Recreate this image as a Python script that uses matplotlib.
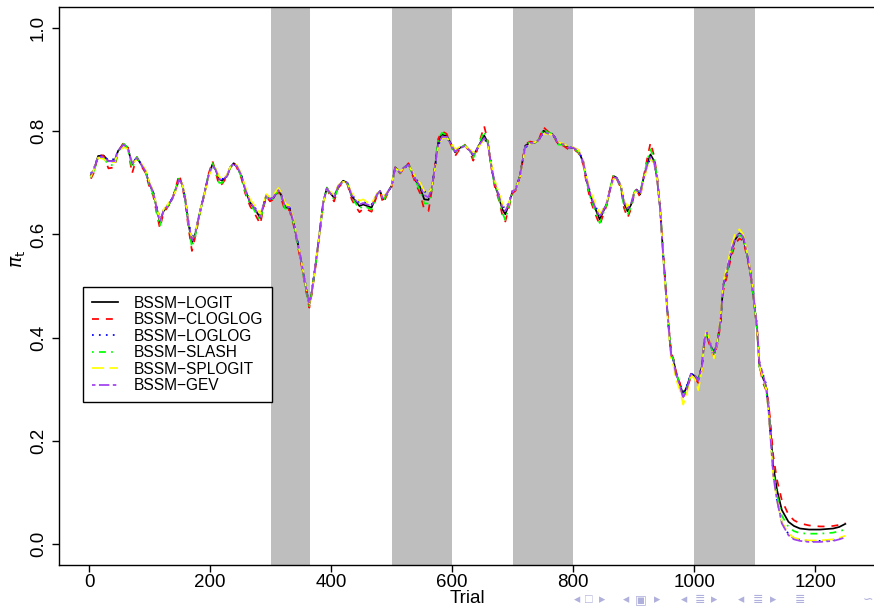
import matplotlib
matplotlib.use("Agg")
from matplotlib import pyplot as plt

# Trial index where the estimates were read off
trials = [
	3, 8, 15, 24, 32, 42, 48, 57, 64, 71,
	79, 86, 93, 99, 106, 112, 117, 123, 128, 137,
	143, 149, 154, 159, 164, 170, 176, 183, 191, 197,
	204, 209, 215, 220, 228, 233, 239, 244, 252, 258,
	266, 274, 283, 288, 293, 299, 305, 313, 318, 324,
	331, 338, 346, 353, 360, 364, 368, 374, 381, 387,
	393, 398, 405, 412, 420, 427, 434, 440, 447, 453,
	460, 467, 476, 481, 486, 493, 500, 506, 514, 520,
	528, 533, 540, 547, 554, 561, 566, 572, 577, 583,
	591, 600, 605, 613, 621, 630, 635, 641, 648, 653,
	659, 664, 670, 677, 683, 688, 693, 700, 705, 712,
	721, 729, 737, 744, 751, 758, 766, 770, 776, 784,
	792, 800, 809, 817, 822, 829, 836, 844, 849, 856,
	861, 867, 872, 879, 884, 890, 896, 901, 905, 911,
	916, 923, 928, 934, 939, 944, 949, 954, 958, 962,
	966, 970, 976, 982, 988, 995, 1002, 1007, 1013, 1017,
	1021, 1026, 1033, 1039, 1044, 1048, 1055, 1061, 1068, 1075,
	1081, 1087, 1093, 1098, 1104, 1108, 1113, 1119, 1123, 1127,
	1131, 1137, 1145, 1156, 1165, 1175, 1190, 1208, 1220, 1230,
	1240, 1250,
]

pi_logit = [
	.715, .725, .752, .753, .742, .742, .762, .775, .768, .736,
	.749, .736, .723, .700, .681, .649, .623, .645, .652, .668,
	.687, .707, .697, .668, .623, .584, .603, .642, .681, .713,
	.736, .726, .707, .704, .713, .729, .738, .733, .713, .687,
	.662, .649, .632, .655, .676, .667, .671, .687, .675, .652,
	.652, .623, .577, .532, .487, .464, .487, .538, .603, .662,
	.690, .681, .671, .694, .704, .700, .674, .665, .655, .658,
	.655, .652, .678, .684, .668, .681, .694, .730, .720, .729,
	.736, .723, .704, .691, .668, .667, .687, .733, .778, .794,
	.791, .772, .759, .768, .772, .762, .752, .765, .781, .792,
	.778, .739, .700, .674, .649, .639, .655, .684, .687, .713,
	.772, .778, .778, .784, .801, .797, .794, .788, .775, .775,
	.768, .768, .762, .739, .707, .674, .652, .629, .642, .661,
	.687, .713, .710, .694, .661, .645, .658, .681, .687, .678,
	.707, .739, .755, .742, .707, .649, .560, .480, .420, .368,
	.357, .331, .312, .289, .305, .330, .325, .318, .344, .396,
	.409, .390, .367, .396, .435, .500, .532, .564, .590, .602,
	.594, .564, .526, .480, .416, .344, .325, .305, .267, .208,
	.150, .105, .066, .043, .035, .030, .028, .028, .029, .030,
	.033, .039,
]

pi_cloglog = [
	.708, .720, .755, .752, .728, .730, .760, .778, .770, .718,
	.750, .733, .720, .695, .675, .640, .612, .642, .650, .665,
	.690, .716, .694, .662, .615, .568, .598, .640, .680, .715,
	.742, .722, .694, .698, .712, .730, .740, .730, .708, .680,
	.655, .640, .620, .650, .674, .664, .668, .684, .668, .645,
	.648, .618, .572, .528, .482, .458, .484, .535, .600, .660,
	.690, .676, .664, .690, .702, .697, .668, .655, .643, .650,
	.648, .644, .676, .682, .660, .678, .692, .732, .718, .728,
	.738, .720, .698, .680, .648, .645, .682, .735, .785, .800,
	.795, .768, .752, .766, .774, .758, .743, .762, .790, .810,
	.782, .735, .695, .668, .638, .625, .648, .680, .685, .712,
	.775, .780, .777, .786, .808, .800, .795, .786, .772, .772,
	.765, .766, .758, .735, .700, .665, .642, .618, .635, .658,
	.688, .716, .708, .690, .652, .632, .650, .678, .686, .672,
	.708, .750, .778, .752, .712, .652, .565, .484, .424, .372,
	.358, .335, .314, .285, .300, .325, .320, .312, .338, .390,
	.402, .385, .362, .390, .428, .490, .522, .555, .582, .592,
	.588, .560, .525, .482, .420, .350, .315, .298, .275, .225,
	.170, .125, .085, .057, .046, .040, .036, .034, .034, .035,
	.037, .041,
]

pi_loglog = [
	.718, .728, .752, .752, .744, .746, .762, .772, .766, .740,
	.748, .737, .724, .702, .683, .652, .630, .647, .654, .669,
	.686, .704, .697, .670, .628, .592, .608, .644, .682, .712,
	.733, .726, .710, .707, .714, .729, .736, .733, .715, .690,
	.665, .652, .638, .657, .676, .669, .673, .686, .677, .656,
	.654, .626, .580, .535, .490, .470, .490, .540, .604, .662,
	.688, .682, .674, .694, .702, .700, .677, .669, .662, .664,
	.661, .658, .678, .683, .670, .681, .693, .728, .721, .728,
	.734, .724, .708, .697, .683, .680, .690, .730, .772, .788,
	.788, .772, .762, .768, .770, .763, .756, .765, .778, .785,
	.775, .740, .703, .678, .656, .650, .660, .685, .688, .712,
	.768, .776, .778, .783, .796, .795, .792, .788, .776, .775,
	.769, .768, .763, .741, .710, .678, .657, .638, .646, .662,
	.686, .710, .709, .695, .666, .652, .661, .680, .685, .680,
	.705, .734, .748, .738, .705, .648, .558, .478, .418, .366,
	.355, .330, .312, .294, .307, .330, .326, .322, .345, .395,
	.408, .392, .370, .397, .435, .498, .530, .562, .588, .600,
	.594, .566, .530, .486, .424, .352, .332, .310, .262, .196,
	.133, .086, .042, .019, .011, .008, .006, .006, .007, .008,
	.011, .014,
]

pi_slash = [
	.710, .722, .750, .748, .735, .734, .760, .776, .768, .728,
	.750, .735, .722, .698, .678, .644, .616, .644, .652, .667,
	.688, .710, .696, .665, .620, .575, .600, .641, .681, .714,
	.738, .724, .700, .700, .712, .729, .739, .732, .711, .684,
	.659, .645, .627, .653, .676, .666, .670, .686, .672, .650,
	.650, .621, .575, .530, .485, .461, .486, .537, .602, .661,
	.691, .679, .668, .692, .704, .699, .672, .661, .650, .655,
	.652, .648, .677, .684, .665, .680, .694, .731, .719, .729,
	.737, .722, .702, .686, .660, .660, .685, .734, .782, .797,
	.793, .770, .756, .767, .773, .760, .748, .765, .786, .800,
	.780, .737, .697, .671, .642, .628, .651, .683, .687, .713,
	.773, .779, .778, .785, .804, .798, .795, .787, .774, .774,
	.767, .767, .760, .737, .704, .670, .648, .622, .638, .660,
	.688, .715, .710, .692, .656, .638, .654, .680, .690, .682,
	.708, .745, .765, .746, .709, .650, .562, .482, .421, .369,
	.357, .332, .312, .287, .303, .328, .323, .316, .342, .394,
	.407, .388, .365, .394, .433, .497, .530, .562, .588, .600,
	.593, .564, .527, .481, .418, .345, .322, .300, .262, .200,
	.140, .095, .055, .033, .025, .021, .020, .020, .021, .022,
	.025, .028,
]

pi_splogit = [
	.712, .726, .749, .746, .740, .740, .758, .770, .765, .738,
	.745, .738, .726, .703, .684, .652, .628, .648, .655, .670,
	.684, .702, .699, .672, .628, .590, .606, .643, .680, .710,
	.732, .728, .712, .708, .716, .730, .736, .735, .716, .692,
	.668, .655, .640, .658, .678, .672, .677, .690, .680, .660,
	.656, .628, .580, .534, .488, .466, .488, .538, .603, .662,
	.688, .683, .677, .696, .702, .700, .680, .672, .665, .668,
	.662, .660, .680, .684, .672, .682, .695, .728, .722, .728,
	.733, .725, .710, .700, .684, .680, .690, .728, .770, .786,
	.788, .774, .764, .770, .771, .764, .758, .766, .776, .785,
	.774, .742, .706, .682, .660, .648, .658, .684, .688, .710,
	.768, .776, .779, .783, .795, .795, .793, .788, .778, .776,
	.770, .769, .764, .742, .712, .682, .662, .640, .648, .664,
	.686, .708, .708, .696, .668, .652, .664, .680, .684, .676,
	.702, .732, .746, .738, .706, .650, .556, .474, .412, .358,
	.345, .320, .300, .270, .292, .328, .318, .298, .338, .398,
	.415, .392, .360, .398, .442, .506, .540, .574, .602, .610,
	.600, .570, .530, .484, .418, .346, .326, .302, .258, .192,
	.130, .085, .043, .020, .012, .009, .007, .007, .008, .009,
	.012, .016,
]

pi_gev = [
	.716, .726, .750, .750, .742, .742, .762, .774, .767, .738,
	.748, .736, .723, .701, .682, .650, .625, .646, .653, .668,
	.686, .706, .697, .669, .625, .588, .605, .643, .681, .712,
	.734, .726, .708, .705, .713, .729, .737, .733, .714, .688,
	.663, .650, .634, .656, .676, .668, .672, .686, .676, .654,
	.653, .624, .578, .533, .488, .466, .488, .539, .603, .662,
	.689, .681, .672, .694, .703, .700, .676, .667, .658, .661,
	.658, .655, .678, .684, .669, .681, .694, .729, .720, .729,
	.735, .723, .706, .694, .676, .672, .688, .731, .774, .789,
	.789, .771, .760, .768, .771, .762, .754, .765, .779, .787,
	.776, .739, .702, .676, .653, .645, .658, .684, .687, .712,
	.770, .777, .778, .784, .798, .796, .793, .788, .775, .775,
	.768, .768, .762, .740, .708, .676, .654, .634, .644, .662,
	.686, .711, .709, .694, .663, .650, .660, .681, .686, .679,
	.706, .736, .750, .740, .706, .648, .558, .478, .418, .366,
	.355, .329, .309, .282, .300, .330, .326, .316, .343, .396,
	.410, .390, .366, .397, .437, .501, .534, .566, .593, .604,
	.596, .566, .529, .484, .420, .350, .333, .305, .260, .195,
	.132, .085, .040, .017, .009, .006, .004, .004, .005, .006,
	.009, .013,
]

# Shaded blocks of trials
block_starts = [300, 500, 700, 1000]
block_ends = [365, 600, 800, 1100]

series_names = ["BSSM\u2212LOGIT", "BSSM\u2212CLOGLOG", "BSSM\u2212LOGLOG",
	"BSSM\u2212SLASH", "BSSM\u2212SPLOGIT", "BSSM\u2212GEV"]

x_ticks = [0, 200, 400, 600, 800, 1000, 1200]
y_ticks = [0.0, 0.2, 0.4, 0.6, 0.8, 1.0]


def main():
	plt.rcParams['font.family'] = ['Liberation Sans', 'DejaVu Sans']
	plt.rcParams['axes.linewidth'] = 1.0

	fig = plt.figure(figsize=(8.74, 6.07), dpi=100)
	ax = fig.add_axes([0.068, 0.0698, 0.9338, 0.918])

	for a, b in zip(block_starts, block_ends):
		ax.axvspan(a, b, color="#BEBEBE", lw=0, zorder=0)

	# R style line types: solid, dashed, dotted, dotdash, longdash, twodash
	# drawn in legend order, so GEV ends up on top like in R
	values = [pi_logit, pi_cloglog, pi_loglog, pi_slash, pi_splogit, pi_gev]
	colors = ["black", "#FF0000", "#0000FF", "#00FF00", "#FFFF00", "#A040F0"]
	dashes = [None, (4, 4), (1, 3), (1, 3, 4, 3), (7, 3), (2, 2, 6, 2)]
	lines = []
	for i in range(6):
		ln, = ax.plot(trials, values[i], color=colors[i], lw=1.25, label=series_names[i], zorder=2 + i * 0.1)
		if dashes[i] is not None:
			ln.set_dashes(dashes[i])
		lines.append(ln)

	ax.set_xlim(-49, 1300)
	ax.set_ylim(-0.04, 1.04)
	ax.set_xticks(x_ticks)
	ax.set_yticks(y_ticks)
	ax.set_yticklabels(["%.1f" % v for v in y_ticks])
	ax.tick_params(axis='both', direction='out', length=5, width=1, labelsize=13.5)
	ax.tick_params(axis='x', pad=2)
	ax.tick_params(axis='y', pad=4)
	plt.setp(ax.get_yticklabels(), rotation=90, va='center')

	ax.set_xlabel("Trial", fontsize=13.5)
	# put the x label center about 598 px from the top
	ax.xaxis.set_label_coords(0.5, (564.6 - 598) / 557.2)
	ax.xaxis.label.set_va('center')
	ax.set_ylabel(r"$\pi_{\mathrm{t}}$", fontsize=13.5)
	ax.yaxis.set_label_coords(-0.039, 0.549)

	leg = ax.legend(lines, series_names, loc='upper left',
		bbox_to_anchor=(0.029, 0.498), borderaxespad=0, fontsize=11.2, frameon=True,
		fancybox=False, edgecolor='black', framealpha=1, handlelength=1.7,
		handletextpad=1.0, labelspacing=0.1, borderpad=0.55)
	leg.get_frame().set_linewidth(1.0)

	# beamer navigation symbols at the bottom right
	nav = [(577, "\u25c2"), (589, "\u25a1"), (602, "\u25b8"), (626, "\u25c2"), (641, "\u25a3"),
		(657, "\u25b8"), (684, "\u25c2"), (700, "\u2263"), (714, "\u25b8"), (741, "\u25c2"),
		(758, "\u2263"), (773, "\u25b8"), (800, "\u2263"), (868, "\u223d")]
	for px, sym in nav:
		fig.text(px / 874, 1 - 600 / 607, sym, color="#B0B0DC", fontsize=9, ha='center', va='center')

	fig.savefig("out.png", dpi=100)


if __name__ == "__main__":
	main()
